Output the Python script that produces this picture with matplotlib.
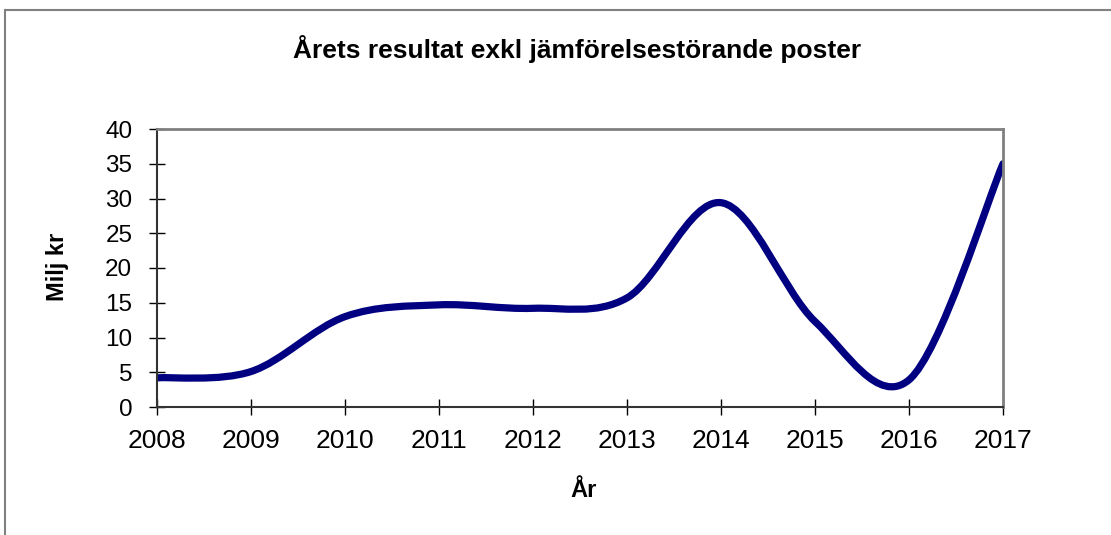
"""Årets resultat exkl jämförelsestörande poster
"""
import matplotlib
matplotlib.use("Agg")
import matplotlib.pyplot as plt
from matplotlib.path import Path
from matplotlib.patches import PathPatch, Rectangle

years = [2008, 2009, 2010, 2011, 2012, 2013, 2014, 2015, 2016, 2017]
result = [4.2, 5.1, 13.0, 14.7, 14.2, 15.7, 29.4, 12.3, 3.9, 35.0]
y_ticks = [0, 5, 10, 15, 20, 25, 30, 35, 40]

plt.rcParams['font.family'] = ['Liberation Sans', 'DejaVu Sans']


def smooth_path(xs, ys):
    """ Excel-like smoothed line: cubic bezier through every point
    """
    pts = list(zip(xs, ys))
    verts = [pts[0]]
    codes = [Path.MOVETO]
    n = len(pts)
    for i in range(n - 1):
        p0 = pts[max(i - 1, 0)]
        p1 = pts[i]
        p2 = pts[i + 1]
        p3 = pts[min(i + 2, n - 1)]
        c1 = (p1[0] + (p2[0] - p0[0]) / 6, p1[1] + (p2[1] - p0[1]) / 6)
        c2 = (p2[0] - (p3[0] - p1[0]) / 6, p2[1] - (p3[1] - p1[1]) / 6)
        verts += [c1, c2, p2]
        codes += [Path.CURVE4] * 3
    return Path(verts, codes)


fig = plt.figure(figsize=(11.11, 5.35), dpi=100)
ax = fig.add_axes([157 / 1111, 128 / 535, 846 / 1111, 278 / 535])

ax.add_patch(PathPatch(smooth_path(years, result), facecolor='none',
                       edgecolor='#000080', linewidth=5.2,
                       capstyle='round', joinstyle='round'))

ax.set_xlim(years[0], years[-1])
ax.set_ylim(0, 40)
ax.set_xticks(years)
ax.set_yticks(y_ticks)
ax.tick_params(axis='both', direction='inout', length=11.5, width=1,
               color='black')
ax.tick_params(axis='x', pad=10, labelsize=19)
ax.tick_params(axis='y', pad=12, labelsize=17.5)

for side in ['top', 'right']:
    ax.spines[side].set_color('#808080')
    ax.spines[side].set_linewidth(2)
for side in ['left', 'bottom']:
    ax.spines[side].set_color('#333333')
    ax.spines[side].set_linewidth(1.5)

ax.set_xlabel('År', fontsize=17, fontweight='bold', va='baseline')
ax.xaxis.set_label_coords(0.5047, -0.3237)
ax.set_ylabel('Milj kr', fontsize=17, fontweight='bold', va='center')
ax.yaxis.set_label_coords(-0.1176, 0.505)

fig.text(577 / 1111, 1 - 58 / 535,
         'Årets resultat exkl jämförelsestörande poster',
         ha='center', va='baseline', fontsize=19, fontweight='bold')

# outer chart frame (cut off by the picture edges)
fig.add_artist(Rectangle((5 / 1111, -0.1), 1.2, 1.1 - 10 / 535,
                         transform=fig.transFigure, facecolor='none',
                         edgecolor='#808080', linewidth=1.5))

fig.savefig('out.png', dpi=100)
